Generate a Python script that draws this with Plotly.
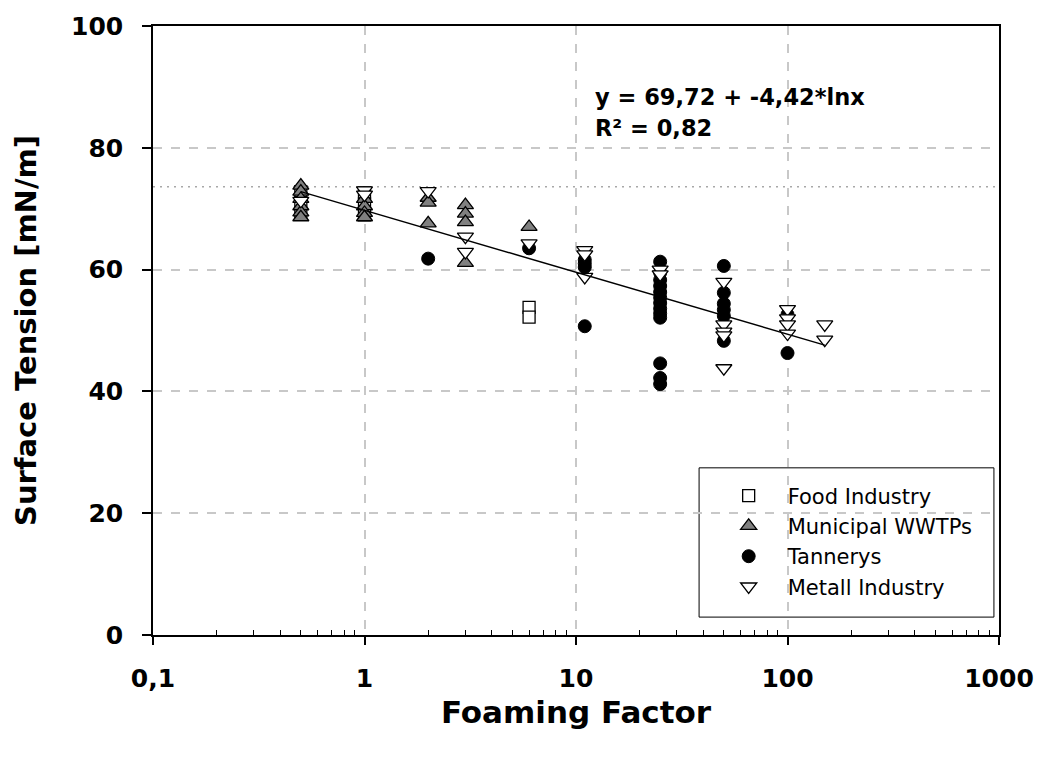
import plotly.graph_objects as go

# ---- data ----
food_x = [0.5, 0.5, 0.5, 1, 1, 1, 6, 6]
food_y = [72.8, 71.0, 69.2, 72.6, 70.8, 69.0, 53.8, 52.2]

muni_x = [0.5, 0.5, 0.5, 0.5, 0.5, 0.5, 1, 1, 1, 1, 2, 2, 2, 3, 3, 3, 3, 6]
muni_y = [73.8, 72.8, 71.6, 70.4, 69.4, 68.6, 71.6, 70.4, 69.3, 68.6,
          71.8, 71.0, 67.6, 70.6, 69.2, 67.8, 61.1, 67.0]

tan_x = [2, 6, 11, 11, 11, 11,
         25, 25, 25, 25, 25, 25, 25, 25, 25, 25, 25, 25, 25,
         50, 50, 50, 50, 50, 50, 100, 100]
tan_y = [61.8, 63.5, 61.6, 61.0, 60.4, 50.7,
         61.3, 59.5, 58.3, 57.3, 56.3, 55.4, 54.5, 53.6, 52.8, 52.1, 44.6, 42.2, 41.2,
         60.6, 56.2, 54.4, 53.4, 52.4, 48.3, 52.6, 46.3]

metal_x = [0.5, 1, 1, 2, 3, 3, 6, 11, 11, 11, 25, 25,
           50, 50, 50, 50, 50, 100, 100, 100, 100, 150, 150]
metal_y = [71.3, 73.0, 72.3, 72.9, 65.4, 62.9, 64.3, 63.2, 62.5, 58.8, 60.0, 59.2,
           58.0, 51.0, 49.8, 49.2, 43.8, 53.5, 52.0, 51.0, 49.5, 51.0, 48.5]

trend_x = [0.5, 150]
trend_y = [72.8, 47.6]

water_ref_y = 73.6
ref_x = [0.1, 1000]

x_tickvals = [0.1, 1, 10, 100, 1000]
x_ticktext = ["0,1", "1", "10", "100", "1000"]
x_minor = [v * m for v in (0.1, 1, 10, 100) for m in range(2, 10)]

eq_text = "y = 69,72 + -4,42*lnx"
r2_text = "R² = 0,82"

FONT = "DejaVu Sans"

fig = go.Figure()

fig.add_trace(go.Scatter(x=ref_x, y=[water_ref_y, water_ref_y], mode="lines",
                         line=dict(color="#a8a8a8", width=1.5, dash="2px,5px"),
                         showlegend=False, hoverinfo="skip"))

fig.add_trace(go.Scatter(x=food_x, y=food_y, mode="markers", name="Food Industry",
                         marker=dict(symbol="square", size=12, color="white",
                                     line=dict(color="black", width=1.3))))
fig.add_trace(go.Scatter(x=muni_x, y=muni_y, mode="markers", name="Municipal WWTPs",
                         marker=dict(symbol="triangle-up", size=14, color="#808080",
                                     line=dict(color="black", width=1.3))))
fig.add_trace(go.Scatter(x=tan_x, y=tan_y, mode="markers", name="Tannerys",
                         marker=dict(symbol="circle", size=13, color="black",
                                     line=dict(color="black", width=1))))
fig.add_trace(go.Scatter(x=metal_x, y=metal_y, mode="markers", name="Metall Industry",
                         marker=dict(symbol="triangle-down", size=14, color="white",
                                     line=dict(color="black", width=1.3))))

fig.add_trace(go.Scatter(x=trend_x, y=trend_y, mode="lines",
                         line=dict(color="black", width=1.5),
                         showlegend=False, hoverinfo="skip"))

fig.update_layout(
    width=1046, height=765,
    margin=dict(l=153, r=41, t=23, b=130),
    paper_bgcolor="white", plot_bgcolor="white",
    font=dict(family=FONT, color="black"),
    showlegend=True,
    legend=dict(x=0.658, y=0.262, xanchor="left", yanchor="top",
                bgcolor="rgba(0,0,0,0)", borderwidth=0, itemwidth=68,
                font=dict(family=FONT, size=21, color="black")),
    shapes=[dict(type="rect", xref="paper", yref="paper",
                 x0=0.6455, x1=0.994, y0=0.0294, y1=0.2745,
                 line=dict(color="black", width=1), fillcolor="white", layer="below")],
    annotations=[
        dict(text=eq_text, xref="paper", yref="paper", x=0.52, y=0.884,
             xanchor="left", yanchor="middle", showarrow=False,
             font=dict(family=FONT, size=22.5, weight="bold")),
        dict(text=r2_text, xref="paper", yref="paper", x=0.52, y=0.833,
             xanchor="left", yanchor="middle", showarrow=False,
             font=dict(family=FONT, size=22.5, weight="bold")),
    ],
)

fig.update_xaxes(
    type="log", range=[-1, 3],
    tickvals=x_tickvals, ticktext=x_ticktext,
    ticks="outside", ticklen=8, tickwidth=1.5, tickcolor="black",
    ticklabelstandoff=12,
    showline=True, linecolor="black", linewidth=1.5, mirror=True,
    showgrid=True, gridcolor="#c8c8c8", gridwidth=1.5, griddash="dash",
    zeroline=False,
    minor=dict(tickvals=x_minor, ticks="inside", ticklen=5, tickwidth=1,
               tickcolor="black", showgrid=False),
    tickfont=dict(family=FONT, size=25, weight="bold"),
    title=dict(text="Foaming Factor", standoff=10,
               font=dict(family=FONT, size=31, weight="bold")),
)

fig.update_yaxes(
    range=[0, 100], dtick=20,
    ticks="outside", ticklen=9, tickwidth=1.5, tickcolor="black",
    ticklabelstandoff=14,
    showline=True, linecolor="black", linewidth=1.5, mirror=True,
    showgrid=True, gridcolor="#c8c8c8", gridwidth=1.5, griddash="dash",
    zeroline=False,
    tickfont=dict(family=FONT, size=25, weight="bold"),
    title=dict(text="Surface Tension [mN/m]", standoff=26,
               font=dict(family=FONT, size=29, weight="bold")),
)

fig.write_html("out.html")
